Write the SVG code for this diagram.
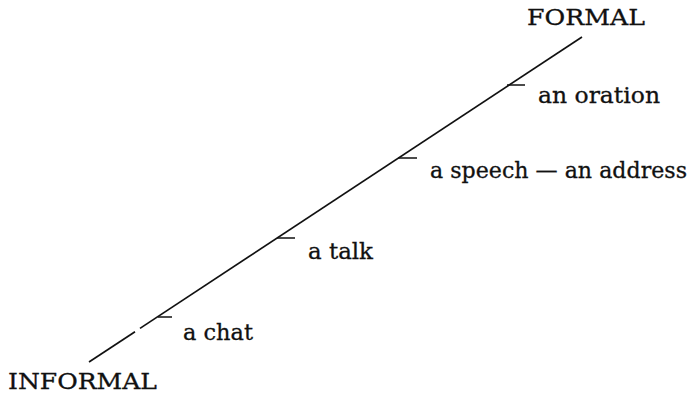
<svg xmlns="http://www.w3.org/2000/svg" width="692" height="395" viewBox="0 0 692 395">
<style>
text{font-family:"DejaVu Serif","Liberation Serif",serif;font-size:22px;fill:#111;stroke:#111;stroke-width:0.3}
.ln{stroke:#111;stroke-width:1.7;fill:none}
.tk{stroke:#111;stroke-width:1.5;fill:none}
</style>
<rect width="692" height="395" fill="#fff"/>
<g id="connectors">
<line class="ln" x1="89" y1="362" x2="135" y2="331.7"/>
<line class="ln" x1="140" y1="328.4" x2="582" y2="37"/>
</g>
<g id="formal"><text x="527" y="25" textLength="118" lengthAdjust="spacingAndGlyphs">FORMAL</text></g>
<g id="informal"><text x="8" y="389" textLength="149" lengthAdjust="spacingAndGlyphs">INFORMAL</text></g>
<g id="oration"><line class="tk" x1="507" y1="85" x2="525" y2="85"/><text x="538" y="103" textLength="122" lengthAdjust="spacingAndGlyphs">an oration</text></g>
<g id="speech"><line class="tk" x1="398" y1="158" x2="417" y2="158"/><text x="430" y="178" textLength="257" lengthAdjust="spacingAndGlyphs">a speech — an address</text></g>
<g id="talk"><line class="tk" x1="277" y1="238" x2="295" y2="238"/><text x="308" y="259" textLength="65" lengthAdjust="spacingAndGlyphs">a talk</text></g>
<g id="chat"><line class="tk" x1="158" y1="317" x2="172" y2="317"/><text x="183" y="340" textLength="70" lengthAdjust="spacingAndGlyphs">a chat</text></g>
</svg>
